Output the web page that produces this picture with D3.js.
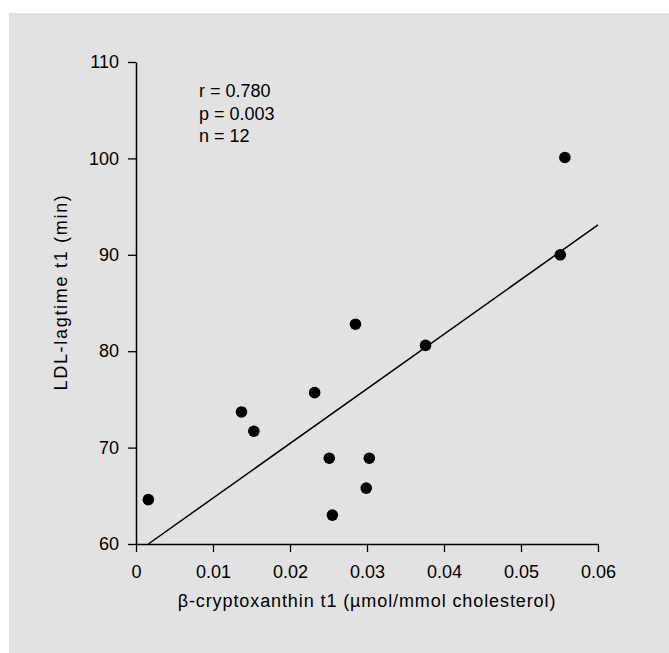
<!DOCTYPE html>
<html>
<head>
<meta charset="utf-8">
<script src="https://cdn.jsdelivr.net/npm/d3@7"></script>
<style>
  html, body { margin: 0; padding: 0; background: #fff; }
  svg { display: block; font-family: "Liberation Sans", Arial, sans-serif; }
</style>
</head>
<body>
<svg id="chart"></svg>
<script>
// Data
const cryptoxanthin = [0.0016, 0.0137, 0.0153, 0.0232, 0.0251, 0.0303, 0.0299, 0.0255, 0.0285, 0.0376, 0.0557, 0.0551];
const lagtime = [64.6, 73.7, 71.7, 75.7, 68.9, 68.9, 65.8, 63.0, 82.8, 80.6, 100.1, 90.0];
const fitX = [0.0016, 0.06];
const fitY = [60.0, 93.1];
const xTicks = [0, 0.01, 0.02, 0.03, 0.04, 0.05, 0.06];
const xTickLabels = ["0", "0.01", "0.02", "0.03", "0.04", "0.05", "0.06"];
const yTicks = [60, 70, 80, 90, 100, 110];
const statsText = ["r = 0.780", "p = 0.003", "n = 12"];

const width = 669;
const height = 653;

const svg = d3.select("#chart")
    .attr("width", width)
    .attr("height", height);

// grey panel
svg.append("rect")
    .attr("x", 9).attr("y", 13)
    .attr("width", width - 9).attr("height", height - 13)
    .attr("fill", "#e2e2e2");

const x = d3.scaleLinear().domain([0, 0.06]).range([136, 598]);
const y = d3.scaleLinear().domain([60, 110]).range([544, 62]);

// axes
const xAxis = svg.append("g")
    .attr("transform", `translate(0,${y(60)})`)
    .call(d3.axisBottom(x)
        .tickValues(xTicks)
        .tickFormat((d, i) => xTickLabels[i])
        .tickSize(8)
        .tickSizeOuter(0)
        .tickPadding(13));

const yAxis = svg.append("g")
    .attr("transform", `translate(${x(0)},0)`)
    .call(d3.axisLeft(y)
        .tickValues(yTicks)
        .tickSize(8)
        .tickSizeOuter(0)
        .tickPadding(9));

[xAxis, yAxis].forEach(g => {
    g.select(".domain").attr("stroke", "#000").attr("stroke-width", 1.5);
    g.selectAll(".tick line").attr("stroke", "#000").attr("stroke-width", 1.3);
    g.selectAll(".tick text")
        .attr("fill", "#000")
        .style("font-size", "18px")
        .style("font-family", "'Liberation Sans', Arial, sans-serif");
});

// regression line
svg.append("path")
    .datum(d3.zip(fitX, fitY))
    .attr("fill", "none")
    .attr("stroke", "#000")
    .attr("stroke-width", 1.5)
    .attr("d", d3.line().x(d => x(d[0])).y(d => y(d[1])));

// points
svg.selectAll("circle.pt")
    .data(d3.zip(cryptoxanthin, lagtime))
    .enter().append("circle")
    .attr("class", "pt")
    .attr("cx", d => x(d[0]))
    .attr("cy", d => y(d[1]))
    .attr("r", 5.8)
    .attr("fill", "#000");

// stats
svg.append("g").selectAll("text")
    .data(statsText)
    .enter().append("text")
    .attr("x", 199)
    .attr("y", (d, i) => 97 + i * 22.5)
    .style("font-size", "18px")
    .attr("fill", "#000")
    .text(d => d);

// axis titles
svg.append("text")
    .attr("x", (x(0) + x(0.06)) / 2)
    .attr("y", 607)
    .attr("text-anchor", "middle")
    .style("font-size", "18px")
    .style("letter-spacing", "0.9px")
    .attr("fill", "#000")
    .text("β-cryptoxanthin t1 (µmol/mmol cholesterol)");

svg.append("text")
    .attr("transform", "translate(67,292) rotate(-90)")
    .attr("text-anchor", "middle")
    .style("font-size", "18px")
    .style("letter-spacing", "1.7px")
    .attr("fill", "#000")
    .text("LDL-lagtime t1 (min)");
</script>
</body>
</html>
